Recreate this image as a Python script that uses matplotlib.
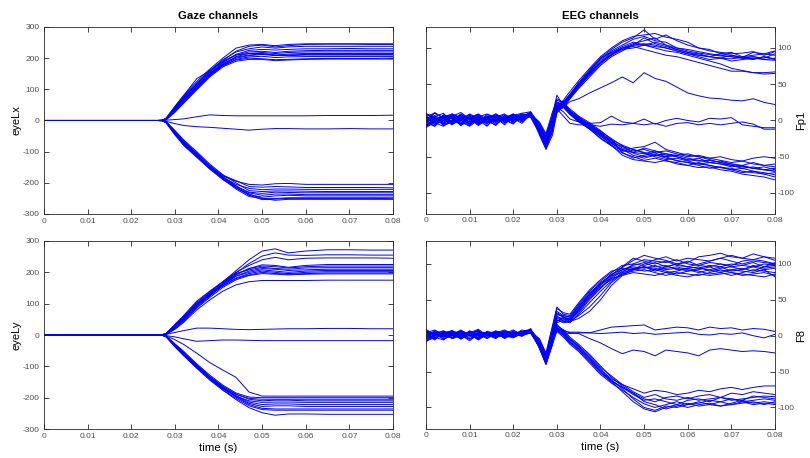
import matplotlib
matplotlib.use("Agg")
import matplotlib.pyplot as plt

plt.rcParams["font.family"] = ["Liberation Sans", "DejaVu Sans"]
plt.rcParams["axes.unicode_minus"] = False

t_gaze = [0, 0.026, 0.027, 0.028, 0.030, 0.032, 0.035, 0.038, 0.041, 0.044,
          0.047, 0.050, 0.053, 0.056, 0.060, 0.065, 0.070, 0.075, 0.080]

t_eeg = [0, 0.002, 0.004, 0.006, 0.008, 0.010, 0.012, 0.014, 0.016, 0.018,
         0.020, 0.022, 0.024, 0.026, 0.0275, 0.029, 0.030, 0.0315, 0.033,
         0.035, 0.0375, 0.040, 0.0425, 0.045, 0.0475, 0.050, 0.0525, 0.055,
         0.0575, 0.060, 0.0625, 0.065, 0.0675, 0.070, 0.0725, 0.075, 0.0775, 0.080]

# gaze channel eyeLx
eyeLx = [
    [0, 0, 0, 8, 45, 80, 125, 165, 200, 232, 242, 244, 240, 244, 246, 246, 246, 246, 246],
    [0, 0, 1, 5, 38, 72, 118, 158, 192, 222, 238, 242, 236, 240, 244, 245, 245, 244, 244],
    [0, 0, 0, 6, 42, 76, 120, 160, 195, 220, 230, 236, 232, 236, 238, 238, 238, 238, 238],
    [0, 0, 0, 4, 35, 66, 110, 150, 185, 212, 225, 228, 226, 228, 230, 230, 231, 230, 230],
    [0, 0, 1, 5, 40, 74, 116, 155, 188, 210, 220, 222, 218, 222, 224, 225, 225, 225, 225],
    [0, 0, 0, 3, 33, 64, 106, 148, 180, 205, 215, 218, 215, 218, 220, 220, 220, 220, 220],
    [0, 0, 0, 5, 36, 70, 112, 152, 182, 203, 210, 214, 210, 213, 215, 215, 215, 215, 215],
    [0, 0, 0, 4, 30, 60, 104, 145, 178, 200, 208, 212, 208, 210, 212, 212, 212, 212, 212],
    [0, 0, 1, 6, 44, 80, 134, 160, 190, 210, 215, 215, 210, 208, 210, 210, 210, 210, 210],
    [0, 0, 0, 3, 28, 58, 100, 142, 175, 196, 204, 206, 202, 204, 205, 205, 205, 205, 205],
    [0, 0, 0, 4, 34, 66, 108, 148, 176, 194, 200, 198, 195, 196, 198, 199, 199, 199, 200],
    [0, 0, 0, 2, 26, 55, 98, 140, 172, 190, 196, 196, 192, 194, 196, 197, 197, 197, 197],
    [0, 0, 0, 1, 3, 5, 12, 18, 16, 15, 15, 15, 15, 15, 15, 16, 16, 16, 17],
    [0, 0, 0, -3, -10, -16, -20, -22, -25, -28, -31, -28, -26, -26, -27, -27, -26, -27, -27],
    [0, 0, 0, -6, -40, -72, -112, -150, -178, -195, -205, -207, -203, -202, -205, -205, -205, -205, -205],
    [0, 0, -1, -5, -36, -68, -106, -146, -176, -193, -212, -214, -212, -213, -215, -215, -215, -215, -216],
    [0, 0, 0, -7, -44, -78, -116, -152, -182, -205, -218, -222, -220, -220, -221, -221, -221, -221, -221],
    [0, 0, 0, -4, -32, -62, -100, -140, -174, -200, -225, -228, -226, -226, -227, -228, -228, -228, -228],
    [0, 0, -1, -6, -42, -75, -114, -150, -185, -212, -230, -234, -230, -231, -232, -232, -232, -232, -232],
    [0, 0, 0, -5, -38, -70, -108, -155, -182, -210, -232, -240, -236, -236, -238, -238, -238, -238, -238],
    [0, 0, 0, -8, -46, -80, -118, -156, -190, -215, -238, -246, -242, -240, -242, -242, -242, -242, -242],
    [0, 0, 0, -4, -34, -65, -104, -144, -180, -210, -236, -250, -250, -248, -248, -248, -248, -248, -248],
    [0, 0, -1, -5, -38, -70, -110, -150, -186, -216, -240, -254, -252, -250, -250, -250, -250, -250, -251],
    [0, 0, 0, -6, -40, -73, -112, -152, -188, -220, -244, -250, -256, -253, -253, -253, -253, -253, -253],
]

# gaze channel eyeLy
eyeLy = [
    [0, 0, 0, 4, 30, 58, 100, 135, 170, 205, 240, 268, 275, 262, 268, 272, 272, 271, 271],
    [0, 0, 0, 3, 26, 52, 96, 130, 165, 198, 228, 252, 262, 255, 254, 256, 256, 255, 255],
    [0, 0, 1, 5, 32, 60, 104, 138, 170, 200, 222, 240, 248, 240, 245, 246, 246, 246, 245],
    [0, 0, 0, 3, 24, 50, 92, 128, 162, 192, 212, 224, 222, 216, 222, 225, 225, 225, 225],
    [0, 0, 0, 4, 28, 55, 98, 132, 165, 194, 212, 220, 218, 214, 218, 220, 220, 220, 220],
    [0, 0, 1, 5, 34, 62, 108, 140, 170, 196, 208, 216, 212, 210, 214, 215, 215, 215, 215],
    [0, 0, 0, 3, 22, 46, 88, 124, 158, 188, 204, 212, 210, 206, 208, 210, 210, 210, 210],
    [0, 0, 0, 4, 30, 56, 100, 132, 162, 188, 200, 208, 204, 200, 204, 206, 206, 206, 206],
    [0, 0, 0, 3, 25, 50, 94, 126, 158, 182, 196, 204, 200, 196, 200, 202, 202, 202, 202],
    [0, 0, 1, 4, 28, 54, 96, 128, 156, 180, 192, 200, 196, 194, 196, 198, 198, 198, 198],
    [0, 0, 0, 2, 20, 44, 86, 120, 152, 176, 190, 196, 194, 192, 194, 195, 195, 195, 195],
    [0, 0, 0, 2, 18, 40, 80, 112, 140, 160, 170, 174, 174, 174, 174, 175, 175, 175, 175],
    [0, 0, 0, 2, 8, 14, 22, 22, 20, 18, 17, 18, 19, 20, 20, 21, 21, 20, 20],
    [0, 0, 0, -2, -6, -12, -20, -18, -16, -16, -17, -18, -18, -18, -18, -18, -18, -18, -18],
    [0, 0, 0, -3, -15, -30, -58, -88, -112, -135, -182, -195, -195, -195, -195, -195, -195, -195, -195],
    [0, 0, 0, -4, -28, -52, -92, -128, -160, -185, -198, -200, -200, -200, -200, -200, -200, -200, -200],
    [0, 0, -1, -5, -32, -58, -98, -134, -165, -190, -202, -205, -205, -205, -205, -205, -205, -205, -205],
    [0, 0, 0, -4, -30, -55, -95, -132, -164, -188, -205, -210, -208, -208, -210, -210, -210, -210, -210],
    [0, 0, 0, -6, -36, -64, -104, -140, -170, -195, -210, -215, -214, -214, -215, -215, -215, -215, -215],
    [0, 0, 0, -5, -34, -60, -100, -138, -168, -194, -214, -222, -220, -220, -222, -222, -222, -222, -222],
    [0, 0, -1, -4, -30, -56, -96, -134, -168, -196, -218, -228, -226, -226, -228, -228, -228, -228, -228],
    [0, 0, 0, -5, -34, -62, -102, -140, -172, -198, -222, -234, -236, -236, -236, -236, -236, -236, -236],
    [0, 0, 0, -6, -38, -66, -106, -144, -176, -202, -226, -238, -240, -240, -240, -240, -240, -240, -240],
    [0, 0, 0, -4, -32, -60, -100, -140, -176, -206, -232, -248, -256, -252, -252, -253, -253, -253, -253],
]

# EEG channel Fp1
Fp1 = [
    [6, 10, 3, -2, 8, 2, 5, 9, 4, 1, 7, 10, 12, -12, -30, -5, 18, 28, 40,
     55, 72, 88, 100, 110, 116, 118, 120, 115, 112, 108, 100, 96, 94, 92, 93, 95, 90, 95],
    [-6, -1, 7, 3, -5, 8, 0, -4, 5, 9, 1, 6, 10, -4, -25, 4, 30, 25, 36,
     52, 70, 86, 98, 108, 114, 125, 112, 118, 110, 104, 100, 98, 92, 94, 88, 90, 92, 90],
    [9, 4, -4, 6, 11, 2, -6, 4, 8, -1, 5, 9, 7, -15, -35, -12, 15, 22, 34,
     50, 68, 84, 96, 104, 112, 116, 110, 108, 100, 98, 95, 92, 90, 88, 86, 84, 88, 85],
    [0, -8, 5, 9, 2, -4, 7, -1, -6, 3, 8, 4, 12, -6, -22, 8, 35, 20, 32,
     48, 66, 82, 94, 102, 108, 104, 108, 104, 100, 96, 93, 91, 89, 88, 86, 88, 84, 86],
    [-9, 5, 10, -3, 3, 7, -5, 5, -1, 6, 2, 3, 8, -18, -38, -16, 12, 18, 30,
     46, 64, 80, 92, 100, 106, 110, 114, 104, 98, 94, 90, 88, 86, 90, 87, 85, 88, 84],
    [4, -3, -8, 0, 6, 3, 8, -4, 2, 5, -2, 7, 9, -2, -18, 12, 28, 24, 34,
     50, 66, 80, 90, 98, 100, 104, 102, 100, 96, 92, 88, 84, 86, 82, 84, 86, 84, 83],
    [-4, 11, 3, 6, -7, 5, -1, 8, 3, -4, 9, 2, 6, -14, -32, -6, 18, 20, 30,
     44, 60, 76, 88, 96, 104, 114, 106, 102, 98, 94, 92, 88, 86, 85, 87, 88, 86, 92],
    [10, 2, 5, -5, 0, 9, 3, 1, -7, 7, 4, 2, 11, -20, -40, -20, 10, 22, 32,
     46, 62, 78, 90, 100, 102, 98, 94, 90, 88, 84, 80, 76, 72, 68, 68, 66, 64, 65],
    [-8, -3, 0, 6, 5, -6, 2, 6, 4, 1, -4, 6, 7, -9, -26, 0, 22, 24, 34,
     48, 64, 80, 92, 98, 104, 104, 100, 96, 94, 90, 86, 82, 78, 72, 69, 66, 66, 67],
    [2, 5, -7, -2, 8, 3, -7, 1, 9, 3, 6, -1, 9, -13, -30, -4, 20, 26, 36,
     52, 68, 86, 94, 100, 104, 106, 104, 100, 96, 92, 90, 88, 92, 90, 87, 94, 92, 96],
    [6, 0, 3, -4, 5, -2, 3, 4, -2, 3, 0, 5, 8, -10, -28, -2, 14, 18, 26,
     30, 38, 45, 52, 60, 52, 66, 58, 54, 46, 38, 34, 31, 30, 28, 27, 30, 25, 22],
    [-2, 7, 0, 5, -5, 3, 8, -2, 0, 6, 3, -4, 9, -8, -26, 0, 18, 12, 2,
     -2, -4, -3, 6, -2, -4, 2, -5, 0, 3, 0, -2, 3, 2, 4, -6, -8, -10, -10],
    [5, -6, 8, 2, 0, -7, 5, 3, 6, -2, 5, 8, 6, -10, -28, -2, 16, 6, -4,
     -6, -6, -8, -5, -6, -4, -6, -4, -8, -4, -3, -6, -4, -6, -4, -2, -5, -12, -12],
    [-7, 2, 5, 8, -4, 6, -2, 3, -5, 4, 9, 1, 7, -12, -30, -4, 20, 22, 12,
     2, -8, -18, -28, -38, -42, -40, -45, -50, -48, -52, -55, -58, -60, -62, -64, -66, -68, -70],
    [9, 3, -2, 0, 8, 1, 6, -7, 3, 0, 4, 6, 11, -16, -36, -8, 16, 24, 14,
     5, -5, -15, -25, -35, -45, -50, -47, -52, -55, -58, -60, -62, -65, -68, -66, -70, -72, -75],
    [-3, -8, 3, 6, 1, -5, 4, 1, 8, -3, 1, 5, 8, -4, -20, 6, 26, 20, 10,
     0, -10, -22, -32, -40, -44, -46, -42, -48, -50, -55, -52, -58, -56, -60, -62, -58, -62, -60],
    [2, 10, 4, -3, 3, 8, -5, 6, 0, 2, 8, 0, 6, -14, -32, -10, 18, 18, 8,
     -2, -12, -25, -35, -45, -50, -55, -52, -56, -58, -62, -65, -64, -68, -70, -74, -76, -78, -82],
    [-10, -2, 6, 3, -7, 0, 3, 4, -3, 6, 0, 3, 9, -10, -26, 0, 24, 22, 12,
     4, -6, -16, -30, -42, -38, -36, -30, -40, -44, -48, -50, -52, -55, -58, -56, -60, -62, -64],
    [3, -5, 0, 9, 4, -2, 1, -8, 6, 1, -5, 9, 4, -18, -38, -14, 14, 20, 10,
     -1, -12, -20, -30, -36, -40, -44, -48, -46, -50, -54, -56, -55, -58, -62, -66, -64, -68, -70],
    [-4, 4, -6, 1, 9, 3, -3, 0, 4, -6, 6, 3, 7, -6, -24, 2, 24, 24, 16,
     6, -3, -14, -26, -44, -52, -48, -44, -42, -46, -50, -48, -52, -50, -54, -56, -52, -50, -52],
    [6, -3, 1, -6, 3, 4, 9, 1, -2, 4, 3, -2, 8, -15, -33, -7, 17, 21, 11,
     1, -9, -20, -34, -48, -54, -56, -58, -55, -60, -62, -58, -62, -65, -66, -70, -72, -74, -78],
    [0, 6, -5, 4, -2, -8, 1, 4, 3, 8, -3, 4, 6, -9, -27, -1, 21, 19, 9,
     -1, -11, -24, -34, -42, -44, -38, -42, -46, -48, -46, -50, -54, -58, -60, -63, -66, -68, -66],
    [-7, 0, 7, -3, 1, 4, -2, 3, 9, 0, 1, 6, 10, -13, -31, -5, 19, 23, 13,
     3, -7, -17, -27, -34, -40, -45, -50, -54, -52, -56, -60, -58, -60, -64, -62, -66, -64, -68],
    [4, 1, -3, 7, 0, -4, 6, -3, 1, 3, 6, 1, 7, -17, -35, -9, 15, 21, 11,
     2, -8, -19, -31, -40, -48, -52, -48, -50, -56, -58, -62, -66, -64, -68, -72, -70, -74, -72],
]

# EEG channel F8
F8 = [
    [4, 8, 1, -3, 6, 3, 7, 0, 4, 8, 2, 6, 9, -10, -32, 5, 30, 28, 26,
     40, 58, 72, 85, 95, 105, 112, 108, 105, 100, 102, 110, 112, 115, 110, 108, 114, 110, 105],
    [-6, 0, 4, 7, -2, 3, -3, 5, 1, -2, 5, 4, 8, -14, -38, -2, 24, 22, 24,
     36, 55, 70, 84, 96, 108, 104, 100, 104, 98, 96, 100, 104, 108, 104, 100, 104, 102, 100],
    [7, 3, -5, 1, 8, 0, 4, 3, -3, 4, 1, 8, 5, -4, -24, 14, 40, 30, 28,
     44, 62, 76, 88, 98, 100, 98, 102, 96, 100, 104, 98, 96, 100, 96, 98, 102, 96, 98],
    [0, -5, 6, 3, -3, 7, 1, -2, 7, 0, 4, 2, 10, -18, -40, -10, 20, 26, 22,
     34, 52, 66, 82, 92, 98, 102, 96, 98, 92, 94, 96, 90, 94, 96, 92, 98, 94, 96],
    [-9, 3, 7, -2, 1, 4, -5, 2, 0, 6, 3, 1, 6, -12, -34, 2, 28, 20, 20,
     38, 56, 72, 86, 92, 96, 94, 98, 92, 94, 90, 92, 96, 90, 92, 94, 90, 96, 102],
    [3, -2, -6, 4, 6, 1, 8, -3, 2, 1, -2, 5, 8, -6, -26, 12, 38, 32, 30,
     46, 64, 78, 90, 94, 92, 96, 90, 94, 96, 92, 88, 92, 96, 90, 92, 96, 100, 98],
    [-3, 7, 2, 4, -5, 3, 0, 5, 4, -3, 7, 2, 4, -16, -36, -4, 22, 18, 20,
     32, 50, 66, 80, 90, 94, 90, 92, 88, 90, 94, 90, 86, 88, 92, 90, 88, 92, 94],
    [9, 1, 3, -4, 0, 6, 2, 1, -4, 5, 4, 0, 9, -11, -30, 6, 32, 26, 24,
     40, 58, 74, 84, 88, 92, 96, 94, 90, 86, 90, 94, 92, 88, 84, 88, 92, 90, 88],
    [-7, -3, 1, 5, 3, -4, 1, 4, 5, 0, -3, 3, 5, -13, -35, -4, 26, 24, 22,
     36, 54, 68, 78, 86, 90, 92, 88, 84, 88, 86, 84, 88, 92, 88, 84, 86, 88, 84],
    [1, 5, -4, 0, 7, 2, -6, 2, 6, 4, 5, 1, 7, -9, -29, 8, 34, 28, 26,
     42, 60, 72, 80, 84, 88, 86, 84, 88, 84, 82, 86, 84, 86, 88, 86, 84, 82, 86],
    [5, 0, 2, -3, 4, 0, 3, 5, -1, 2, 0, 5, 6, -15, -37, -3, 22, 20, 18,
     30, 46, 62, 76, 88, 100, 106, 104, 102, 106, 100, 98, 102, 100, 98, 104, 106, 104, 100],
    [-2, 4, 0, 6, -3, 4, 9, 0, 1, 7, 3, -1, 8, -7, -27, 4, 30, 26, 20,
     24, 34, 50, 70, 84, 92, 100, 106, 110, 104, 108, 106, 104, 108, 112, 108, 106, 110, 108],
    [3, -6, 6, 1, 0, -2, 4, 2, 5, -1, 3, 6, 4, -17, -39, -12, 18, 22, 20,
     28, 40, 56, 74, 86, 94, 96, 92, 96, 100, 96, 94, 98, 96, 100, 98, 96, 92, 82],
    [-4, 1, 4, 6, -1, 5, 0, 2, -3, 3, 8, 1, 5, -10, -30, -2, 12, 6, 5,
     5, 4, 8, 12, 13, 14, 15, 8, 10, 12, 11, 8, 12, 10, 11, 8, 10, 9, 6],
    [6, 2, -1, 0, 5, 1, -4, 3, 6, 0, 2, 4, 7, -12, -34, -4, 10, 4, 3,
     4, 4, 3, 4, 5, 3, 4, 2, 3, 4, 5, 2, 1, 3, 2, 4, 0, -3, 2],
    [-5, -1, 2, 3, 1, -7, 2, 5, 0, 2, -1, 5, 6, -8, -28, 0, 14, 8, 4,
     3, -4, -10, -18, -25, -20, -22, -28, -20, -22, -24, -28, -20, -18, -20, -22, -21, -22, -24],
    [2, 6, -2, 1, 3, 5, -1, 0, 3, 6, 1, 2, 5, -12, -34, -2, 10, 4, -8,
     -18, -32, -48, -60, -68, -74, -80, -76, -78, -82, -80, -76, -78, -74, -72, -75, -72, -70, -70],
    [-8, 0, 5, 2, -4, 1, 5, 3, -1, 4, 5, 0, 4, -14, -36, -6, 8, 0, -10,
     -20, -36, -52, -64, -72, -80, -88, -92, -86, -84, -88, -84, -82, -86, -80, -82, -78, -80, -82],
    [1, -3, 3, 7, 2, 0, 2, -4, 4, 1, 2, 6, 3, -6, -26, 4, 16, 6, -4,
     -14, -28, -44, -56, -68, -78, -86, -82, -88, -90, -86, -90, -88, -86, -90, -88, -86, -84, -85],
    [4, 3, 0, -3, 6, 2, 1, 5, 1, -2, 3, 2, 7, -16, -40, -12, 6, -2, -12,
     -22, -38, -54, -66, -76, -86, -95, -100, -96, -92, -96, -94, -90, -92, -88, -92, -90, -88, -90],
    [-3, 5, 1, 4, 0, -5, 3, 1, 2, 5, -2, 3, 5, -9, -32, 2, 14, 8, -2,
     -12, -26, -42, -58, -70, -80, -92, -96, -102, -98, -94, -98, -96, -92, -96, -94, -92, -96, -92],
    [0, -4, 2, 5, 3, 1, -3, 6, 3, 0, 5, 1, 4, -13, -38, -4, 9, 2, -6,
     -16, -30, -46, -62, -74, -88, -100, -104, -98, -100, -96, -92, -96, -98, -94, -90, -94, -92, -94],
    [7, 1, -2, 2, -3, 4, 6, 0, -2, 2, 1, 5, 6, -11, -33, -1, 11, 5, -5,
     -15, -32, -50, -64, -78, -92, -102, -106, -100, -96, -100, -96, -94, -98, -96, -92, -96, -94, -96],
    [-1, 4, 6, -4, 2, 0, 1, 3, 5, -4, 2, 3, 5, -15, -37, -5, 7, 1, -9,
     -19, -34, -50, -62, -72, -82, -90, -88, -92, -96, -90, -88, -92, -86, -88, -90, -84, -86, -88],
]

xticks = [0, 0.01, 0.02, 0.03, 0.04, 0.05, 0.06, 0.07, 0.08]
xticklabels = ["0", "0.01", "0.02", "0.03", "0.04", "0.05", "0.06", "0.07", "0.08"]
gaze_yticks = [-300, -200, -100, 0, 100, 200, 300]
eeg_yticks = [-100, -50, 0, 50, 100]

tick_col = "#4d4d4d"
blue = (0, 0, 1)

fig = plt.figure(figsize=(8.1, 4.58), dpi=100)
ax_lx = fig.add_axes([0.0543, 0.5328, 0.4309, 0.4083])
ax_fp = fig.add_axes([0.5259, 0.5328, 0.4309, 0.4083])
ax_ly = fig.add_axes([0.0543, 0.0633, 0.4309, 0.4105])
ax_f8 = fig.add_axes([0.5259, 0.0633, 0.4309, 0.4105])


def style(ax):
    ax.set_xlim(0, 0.08)
    ax.set_xticks(xticks)
    ax.set_xticklabels(xticklabels)
    ax.tick_params(direction="in", length=3.5, width=0.6, top=True, right=True,
                   labelsize=6, colors="#262626", labelcolor=tick_col, pad=3)
    for s in ax.spines.values():
        s.set_color("#262626")
        s.set_linewidth(0.6)


for ax, traces, label in [(ax_lx, eyeLx, "eyeLx"), (ax_ly, eyeLy, "eyeLy")]:
    for tr in traces:
        ax.plot(t_gaze, tr, color=blue, lw=0.7)
    style(ax)
    ax.set_ylim(-300, 300)
    ax.set_yticks(gaze_yticks)
    ax.set_ylabel(label, fontsize=8, labelpad=1)

for ax, traces, label, ylim in [(ax_fp, Fp1, "Fp1", (-129, 129)),
                                (ax_f8, F8, "F8", (-130, 132))]:
    for tr in traces:
        ax.plot(t_eeg, tr, color=blue, lw=0.7)
    style(ax)
    ax.set_ylim(*ylim)
    ax.set_yticks(eeg_yticks)
    ax.tick_params(labelleft=False, labelright=True, pad=2)
    ax.yaxis.set_label_position("right")
    ax.set_ylabel(label, fontsize=8, labelpad=1)

ax_lx.set_title("Gaze channels", fontsize=8.2, fontweight="bold", pad=6)
ax_fp.set_title("EEG channels", fontsize=8.2, fontweight="bold", pad=6)
ax_ly.set_xlabel("time (s)", fontsize=8.2, labelpad=2)
ax_f8.set_xlabel("time (s)", fontsize=8.2, labelpad=2)

fig.savefig("out.png", dpi=100, facecolor="white")
